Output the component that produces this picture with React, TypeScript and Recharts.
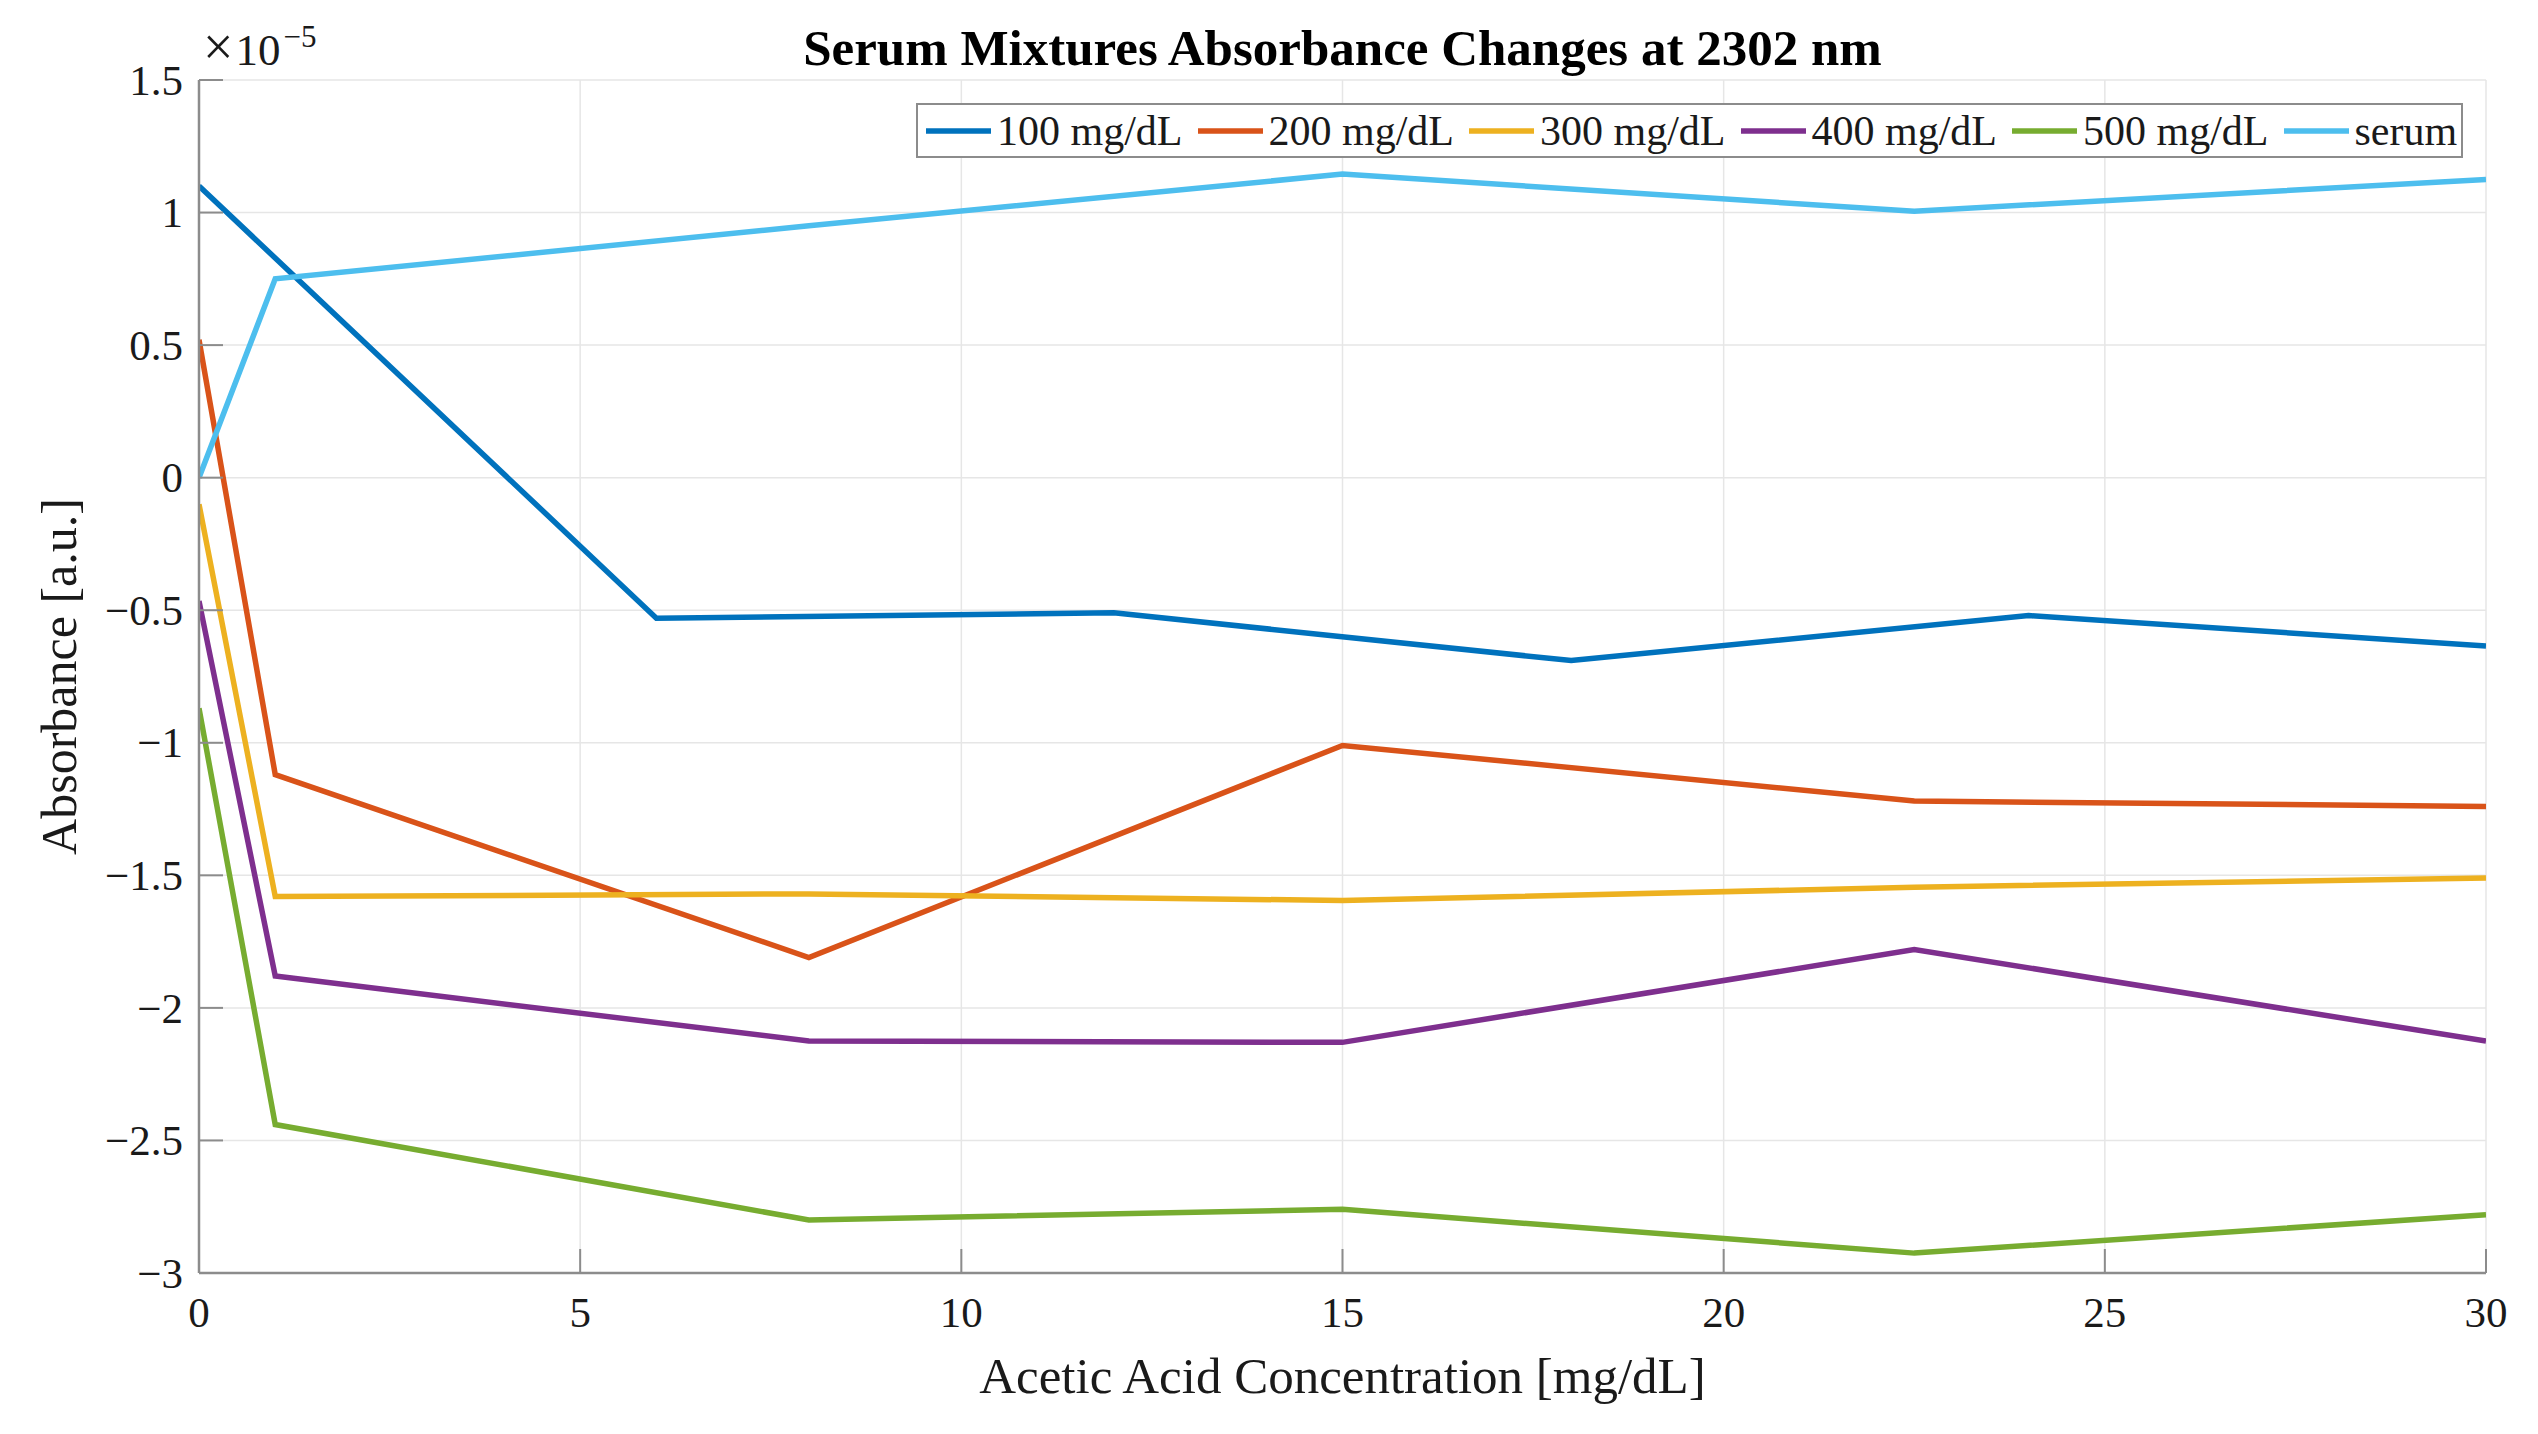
import React from 'react';
import { LineChart, Line, XAxis, YAxis, CartesianGrid, Legend } from 'recharts';

// ---- data (absorbance in units of 1e-5) ----
const xAcetic = [0, 1, 8, 15, 22.5, 30];
const x100 = [0, 6, 12, 18, 24, 30];
const y100 = [1.1, -0.53, -0.51, -0.69, -0.52, -0.635];
const y200 = [0.52, -1.12, -1.81, -1.01, -1.22, -1.24];
const y300 = [-0.1, -1.58, -1.57, -1.595, -1.545, -1.51];
const y400 = [-0.465, -1.88, -2.125, -2.13, -1.78, -2.125];
const y500 = [-0.87, -2.44, -2.8, -2.76, -2.925, -2.78];
const ySerum = [0, 0.75, 0.95, 1.145, 1.005, 1.125];

const seriesNames = ['100 mg/dL', '200 mg/dL', '300 mg/dL', '400 mg/dL', '500 mg/dL', 'serum'];
const seriesColors = ['#0072BD', '#D95319', '#EDB120', '#7E2F8E', '#77AC30', '#4DBEEE'];
const xTicks = [0, 5, 10, 15, 20, 25, 30];
const yTicks = [-3, -2.5, -2, -1.5, -1, -0.5, 0, 0.5, 1, 1.5];

const toPoints = (xs: number[], ys: number[]) => xs.map((x, i) => ({ x, y: ys[i] }));
const seriesData = [
  toPoints(x100, y100),
  toPoints(xAcetic, y200),
  toPoints(xAcetic, y300),
  toPoints(xAcetic, y400),
  toPoints(xAcetic, y500),
  toPoints(xAcetic, ySerum),
];

// ---- layout ----
const W = 2538;
const H = 1434;
const PLOT_L = 199;
const PLOT_R = 2486;
const PLOT_T = 80;
const PLOT_B = 1273;
const XAXIS_H = 100;
const YAXIS_W = 100;
const TICK_LEN = 24;
const FONT = '"Liberation Serif", "Times New Roman", serif';
const AXIS_COLOR = '#8c8c8c';
const TEXT_COLOR = '#1a1a1a';
const CX = (PLOT_L + PLOT_R) / 2;

const fmtY = (v: number) => (v < 0 ? '\u2212' : '') + String(Math.abs(v));

const BottomTick = (props: any) => {
  const { x, y, payload } = props;
  return (
    <text x={x} y={y + 54} textAnchor="middle" fontFamily={FONT} fontSize={43} fill={TEXT_COLOR}>
      {String(payload.value)}
    </text>
  );
};

const LeftTick = (props: any) => {
  const { x, y, payload } = props;
  return (
    <text x={x} y={y} dy="0.34em" textAnchor="end" fontFamily={FONT} fontSize={43} fill={TEXT_COLOR}>
      {fmtY(payload.value)}
    </text>
  );
};

const LegendBox = (props: any) => {
  const payload = (props && props.payload) || [];
  const items = payload.length
    ? payload.map((p: any) => ({ name: p.value, color: p.color }))
    : seriesNames.map((n, i) => ({ name: n, color: seriesColors[i] }));
  return (
    <div
      style={{
        boxSizing: 'border-box',
        width: 1547,
        height: 55,
        border: `2.5px solid ${AXIS_COLOR}`,
        background: '#fff',
        display: 'flex',
        alignItems: 'center',
        paddingLeft: 8,
        gap: 15,
        fontFamily: FONT,
        fontSize: 42,
        color: TEXT_COLOR,
        whiteSpace: 'nowrap',
      }}
    >
      {items.map((it: any) => (
        <div key={it.name} style={{ display: 'flex', alignItems: 'center' }}>
          <svg width={65} height={10} style={{ display: 'block' }}>
            <line x1={0} y1={5} x2={65} y2={5} stroke={it.color} strokeWidth={5.5} />
          </svg>
          <span style={{ marginLeft: 6, lineHeight: '44px' }}>{it.name}</span>
        </div>
      ))}
    </div>
  );
};

export default function App() {
  return (
    <div style={{ position: 'absolute', left: 0, top: 0, width: W, height: H, background: '#fff' }}>
      <LineChart
        width={W}
        height={H}
        margin={{ top: PLOT_T, right: W - PLOT_R, bottom: H - PLOT_B - XAXIS_H, left: PLOT_L - YAXIS_W }}
      >
        <CartesianGrid stroke="#e6e6e6" strokeWidth={1.5} />
        <XAxis
          type="number"
          dataKey="x"
          domain={[0, 30]}
          ticks={xTicks}
          allowDataOverflow
          height={XAXIS_H}
          stroke={AXIS_COLOR}
          axisLine={{ stroke: AXIS_COLOR, strokeWidth: 2.5 }}
          tickLine={{ stroke: AXIS_COLOR, strokeWidth: 2 }}
          tickSize={-TICK_LEN}
          tickMargin={TICK_LEN}
          tick={<BottomTick />}
        />
        <YAxis
          type="number"
          domain={[-3, 1.5]}
          ticks={yTicks}
          allowDataOverflow
          width={YAXIS_W}
          stroke={AXIS_COLOR}
          axisLine={{ stroke: AXIS_COLOR, strokeWidth: 2.5 }}
          tickLine={{ stroke: AXIS_COLOR, strokeWidth: 2 }}
          tickSize={-TICK_LEN}
          tickMargin={TICK_LEN + 16}
          tick={<LeftTick />}
        />
        <XAxis
          xAxisId="top"
          orientation="top"
          type="number"
          dataKey="x"
          domain={[0, 30]}
          ticks={xTicks}
          allowDataOverflow
          height={0}
          stroke={AXIS_COLOR}
          axisLine={{ stroke: AXIS_COLOR, strokeWidth: 2.5 }}
          tickLine={{ stroke: AXIS_COLOR, strokeWidth: 2 }}
          tickSize={-TICK_LEN}
          tick={false}
        />
        <YAxis
          yAxisId="right"
          orientation="right"
          type="number"
          domain={[-3, 1.5]}
          ticks={yTicks}
          allowDataOverflow
          width={0}
          stroke={AXIS_COLOR}
          axisLine={{ stroke: AXIS_COLOR, strokeWidth: 2.5 }}
          tickLine={{ stroke: AXIS_COLOR, strokeWidth: 2 }}
          tickSize={-TICK_LEN}
          tick={false}
        />
        {seriesData.map((d, i) => (
          <Line
            key={seriesNames[i]}
            data={d}
            dataKey="y"
            name={seriesNames[i]}
            type="linear"
            stroke={seriesColors[i]}
            strokeWidth={5.5}
            dot={false}
            activeDot={false}
            isAnimationActive={false}
          />
        ))}
        <Legend
          layout="horizontal"
          verticalAlign="middle"
          align="center"
          wrapperStyle={{ left: 916, top: 103, width: 1547, height: 55 }}
          content={<LegendBox />}
        />
      </LineChart>
      <svg
        width={W}
        height={H}
        style={{ position: 'absolute', left: 0, top: 0, pointerEvents: 'none' }}
        fontFamily={FONT}
      >
        <text x={CX} y={65} textAnchor="middle" fontWeight="bold" fontSize={51} fill="#000">
          Serum Mixtures Absorbance Changes at 2302 nm
        </text>
        <text x={203} y={65} fontSize={54} fill={TEXT_COLOR}>
          ×
          <tspan dx={2} fontSize={45}>10</tspan>
          <tspan dx={3} dy={-18} fontSize={31}>
            −5
          </tspan>
        </text>
        <text x={CX} y={1393} textAnchor="middle" fontSize={51} fill={TEXT_COLOR}>
          Acetic Acid Concentration [mg/dL]
        </text>
        <text
          transform={`translate(76, ${(PLOT_T + PLOT_B) / 2}) rotate(-90)`}
          textAnchor="middle"
          fontSize={50}
          fill={TEXT_COLOR}
        >
          Absorbance [a.u.]
        </text>
      </svg>
    </div>
  );
}
